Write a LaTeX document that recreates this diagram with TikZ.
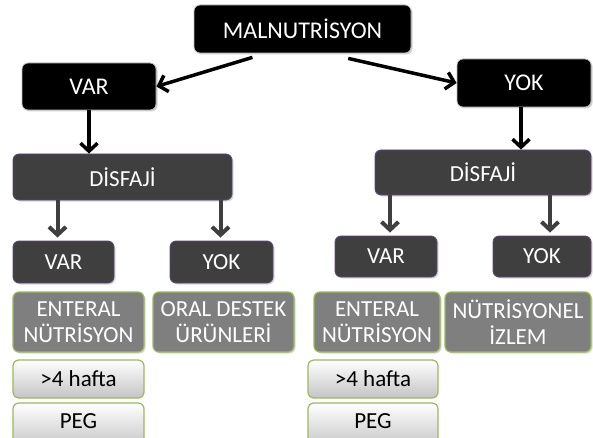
\documentclass[tikz,border=0pt]{standalone}
\usepackage{fontspec}
\setmainfont{Carlito}
\usetikzlibrary{arrows.meta,shadows,calc}
\definecolor{midgray}{HTML}{3F3F3F}
\definecolor{treatgray}{HTML}{7F7F7F}
\definecolor{purpleline}{HTML}{5F497A}
\definecolor{greenline}{HTML}{9BBB59}
\definecolor{lightbottom}{HTML}{C4C4C4}
\tikzset{
  base/.style={rounded corners=6pt, inner sep=0pt, align=center, font=\fontsize{23}{26}\selectfont},
  topbox/.style={base, fill=black, draw=white!75!black, line width=0.8pt, text=white,
     font=\fontsize{24}{28}\selectfont,
     drop shadow={shadow xshift=1.5pt, shadow yshift=-1.5pt, opacity=0.35}},
  midbox/.style={base, fill=midgray, draw=purpleline, line width=0.8pt, text=white,
     drop shadow={shadow xshift=1.5pt, shadow yshift=-1.5pt, opacity=0.3}},
  treatbox/.style={base, fill=treatgray, draw=greenline, line width=1.2pt, text=white,
     drop shadow={shadow xshift=1.5pt, shadow yshift=-1.5pt, opacity=0.3}},
  lightbox/.style={base, top color=white, bottom color=lightbottom, draw=greenline, line width=1.2pt, text=black},
  toparrow/.style={draw=black, line width=3.5pt, -{Straight Barb[length=8pt,width=17pt,line width=3.5pt]}},
  midarrow/.style={draw=midgray, line width=4pt, -{Straight Barb[length=8pt,width=17pt,line width=4pt]}},
}
\begin{document}
\begin{tikzpicture}[x=1pt,y=-1pt]
\useasboundingbox (0,0) rectangle (593,438);
\clip (0,0) rectangle (593,438);
\fill[white] (0,0) rectangle (593,438);
% top level
\node[topbox, minimum width=217pt, minimum height=48pt] (mal) at (302.5,29) {MALNUTRİSYON};
\node[topbox, minimum width=134pt, minimum height=47pt] (var) at (89,86.5) {VAR};
\node[topbox, minimum width=134pt, minimum height=48pt] (yok) at (524,83) {YOK};
% disfaji
\node[midbox, minimum width=219pt, minimum height=46pt] (disL) at (122.5,177) {DİSFAJİ};
\node[midbox, minimum width=216pt, minimum height=45pt] (disR) at (483,172.5) {DİSFAJİ};
% second level
\node[midbox, minimum width=101pt, minimum height=42pt] (varL) at (63.5,262) {VAR};
\node[midbox, minimum width=103pt, minimum height=42pt] (yokL) at (221.5,262) {YOK};
\node[midbox, minimum width=102pt, minimum height=41pt] (varR) at (386,256.5) {VAR};
\node[midbox, minimum width=98pt, minimum height=41pt] (yokR) at (542,256.5) {YOK};
% treatments
\node[treatbox, minimum width=131pt, minimum height=60pt] (entL) at (78.5,322) {ENTERAL\\NÜTRİSYON};
\node[treatbox, minimum width=141pt, minimum height=60pt] (oral) at (223.5,322) {ORAL DESTEK\\ÜRÜNLERİ};
\node[treatbox, minimum width=126pt, minimum height=60pt] (entR) at (377,322) {ENTERAL\\NÜTRİSYON};
\node[treatbox, minimum width=146pt, minimum height=60pt] (izlem) at (518,322) {NÜTRİSYONEL\\İZLEM};
% light boxes
\node[lightbox, minimum width=131pt, minimum height=38pt] (hafL) at (78.5,379) {>4 hafta};
\node[lightbox, minimum width=131pt, minimum height=45pt] (pegL) at (78.5,425.5) {\raisebox{9pt}{PEG}};
\node[lightbox, minimum width=130pt, minimum height=38pt] (hafR) at (373,379) {>4 hafta};
\node[lightbox, minimum width=130pt, minimum height=45pt] (pegR) at (373,425.5) {\raisebox{9pt}{PEG}};
% arrows
\draw[toparrow] ($(mal.south west)!0.27!(mal.south east)+(0,4)$) -- (var.east);
\draw[toparrow] ($(mal.south west)!0.71!(mal.south east)+(0,5)$) -- (yok.west);
\draw[toparrow] (var.south) -- (var.south |- disL.north);
\draw[toparrow] ($(yok.south)+(-3,0)$) -- ($(yok.south |- disR.north)+(-3,0)$);
\draw[midarrow] ($(disL.south -| varL.north)+(-6,0)$) -- ($(varL.north)+(-6,-3)$);
\draw[midarrow] ($(disL.south -| yokL.north)+(-1,0)$) -- ($(yokL.north)+(-1,-3)$);
\draw[midarrow] ($(disR.south -| varR.north)+(4,0)$) -- ($(varR.north)+(4,-3)$);
\draw[midarrow] ($(disR.south -| yokR.north)+(8,0)$) -- ($(yokR.north)+(8,-3)$);
\end{tikzpicture}
\end{document}
